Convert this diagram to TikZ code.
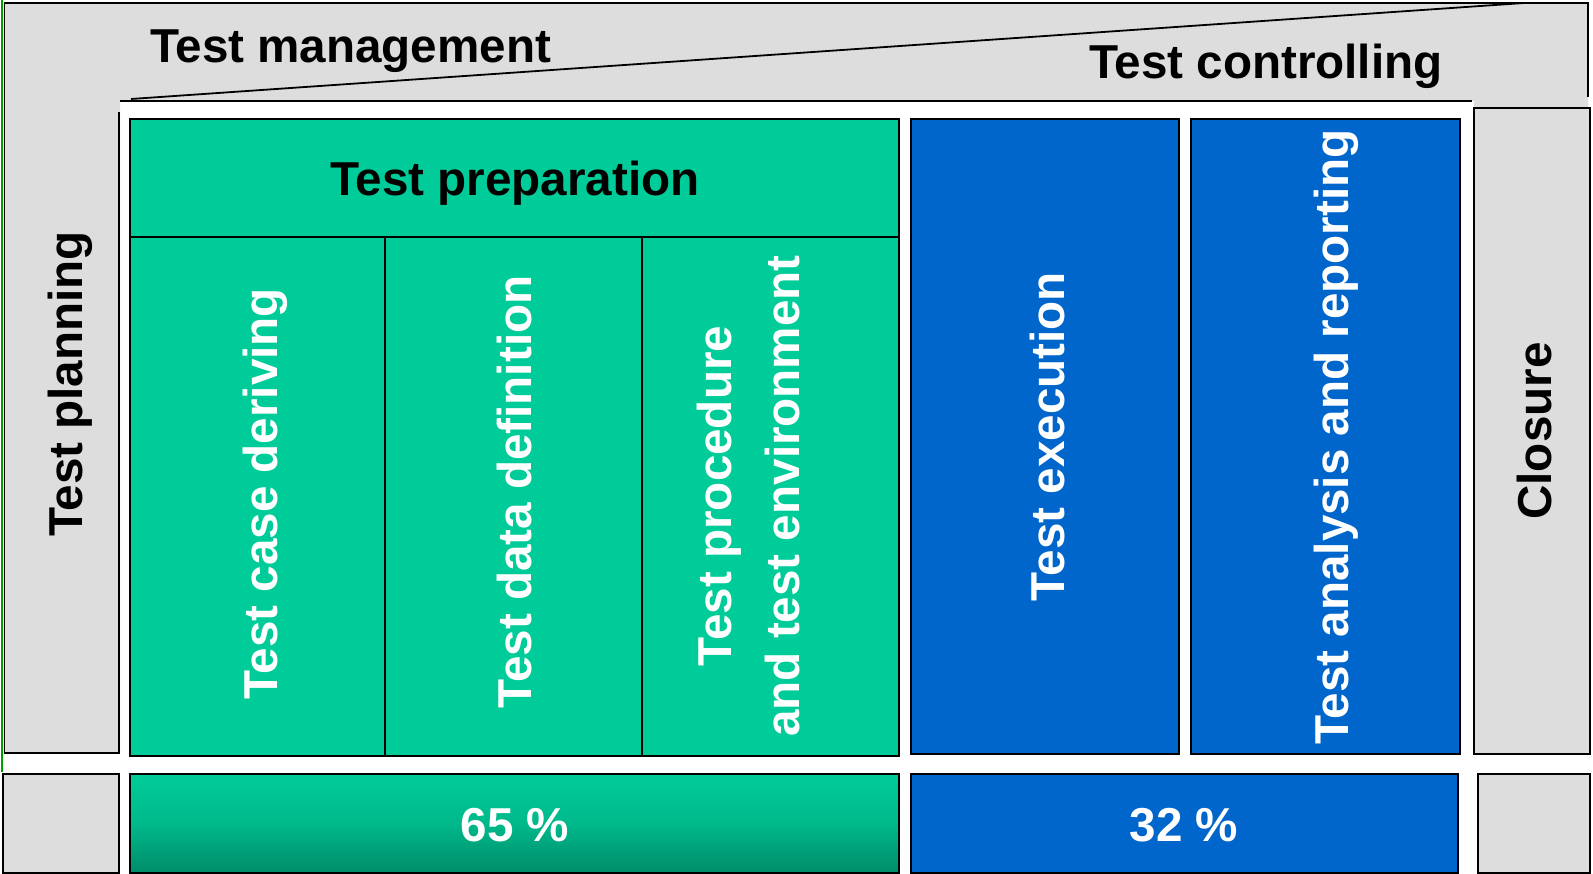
\documentclass[tikz,border=0pt]{standalone}
\usepackage{fontspec}
\setmainfont{Liberation Sans}
\usetikzlibrary{fit}
\definecolor{tgreen}{RGB}{0,204,153}
\definecolor{tgreendark}{RGB}{0,140,105}
\definecolor{tblue}{RGB}{0,102,204}
\definecolor{tgray}{RGB}{221,221,221}
\definecolor{edgegreen}{RGB}{0,160,0}
\begin{document}
\begin{tikzpicture}[x=1pt,y=-1pt,
  box/.style={draw=black, line width=2.2pt, inner sep=0pt, outer sep=0pt},
  frame/.style={draw=black, line width=2.2pt},
  lbl/.style={font=\fontsize{47.6}{68}\selectfont\bfseries, inner sep=0pt, outer sep=0pt},
  vlbl/.style={lbl, rotate=90, anchor=base},
  wlbl/.style={vlbl, text=white}]
\useasboundingbox (0,0) rectangle (1593,874);
% gray L-shaped band
\fill[tgray] (4,3) -- (1588,3) -- (1588,108) -- (1474,108) -- (1474,101) -- (120,101) -- (120,753) -- (4,753) -- cycle;
\node[fill=tgray, inner sep=0pt, outer sep=0pt, fit={(4,3) (119,753)}] (plan) {};
\draw[frame] ([yshift=-109pt]plan.north east) -- (plan.south east) -- (plan.south west);
\draw[frame] (4,3) -- (1588,3) -- (1588,97);
\draw[frame] (120,101) -- (1472,101);
\draw[black, line width=1.8pt] (131,99) -- (1524,3);
\draw[black, line width=1.5pt] (4.5,3) -- (4.5,753);
\draw[edgegreen, line width=2pt] (2.2,0) -- (2.2,772);
% boxes
\node[box, fill=tgreen, fit={(130,119) (899,237)}] (prep) {};
\node[box, fill=tgreen, fit={(130,237) (385,756)}] (case) {};
\node[box, fill=tgreen, fit={(385,237) (642,756)}] (data) {};
\node[box, fill=tgreen, fit={(642,237) (899,756)}] (proc) {};
\node[box, fill=tblue, fit={(911,119) (1179,754)}] (exec) {};
\node[box, fill=tblue, fit={(1191,119) (1460,754)}] (anal) {};
\node[box, fill=tgray, fit={(1474,108) (1590,754)}] (clos) {};
% bottom row
\node[box, fill=tgray, fit={(3,774) (119,873)}] (b1) {};
\node[box, top color=tgreen, bottom color=tgreendark, middle color=tgreen!70!tgreendark, fit={(130,774) (899,873)}] (b2) {};
\node[box, fill=tblue, fit={(911,774) (1458,873)}] (b3) {};
\node[box, fill=tgray, fit={(1478,774) (1590,873)}] (b4) {};
% texts
\node[lbl, anchor=base west] (mgmt) at (150,63) {Test management};
\node[lbl, anchor=base west] (ctrl) at (1089,79) {Test controlling};
\node[lbl, anchor=base] (preptext) at (515,196) {Test preparation};
\node[vlbl] (plantext) at (82,384) {Test planning};
\node[wlbl] (casetext) at (277,494) {Test case deriving};
\node[wlbl] (datatext) at (531,492) {Test data definition};
\node[wlbl, align=center] (proctext) at (799,496) {Test procedure\\and test environment};
\node[wlbl] (exectext) at (1064,437) {Test execution};
\node[wlbl] (analtext) at (1348,437) {Test analysis and reporting};
\node[vlbl] (clostext) at (1551,431) {Closure};
\node[lbl, anchor=base, text=white] (p65) at (515,841) {65 \%};
\node[lbl, anchor=base, text=white] (p32) at (1184,841) {32 \%};
\end{tikzpicture}
\end{document}
